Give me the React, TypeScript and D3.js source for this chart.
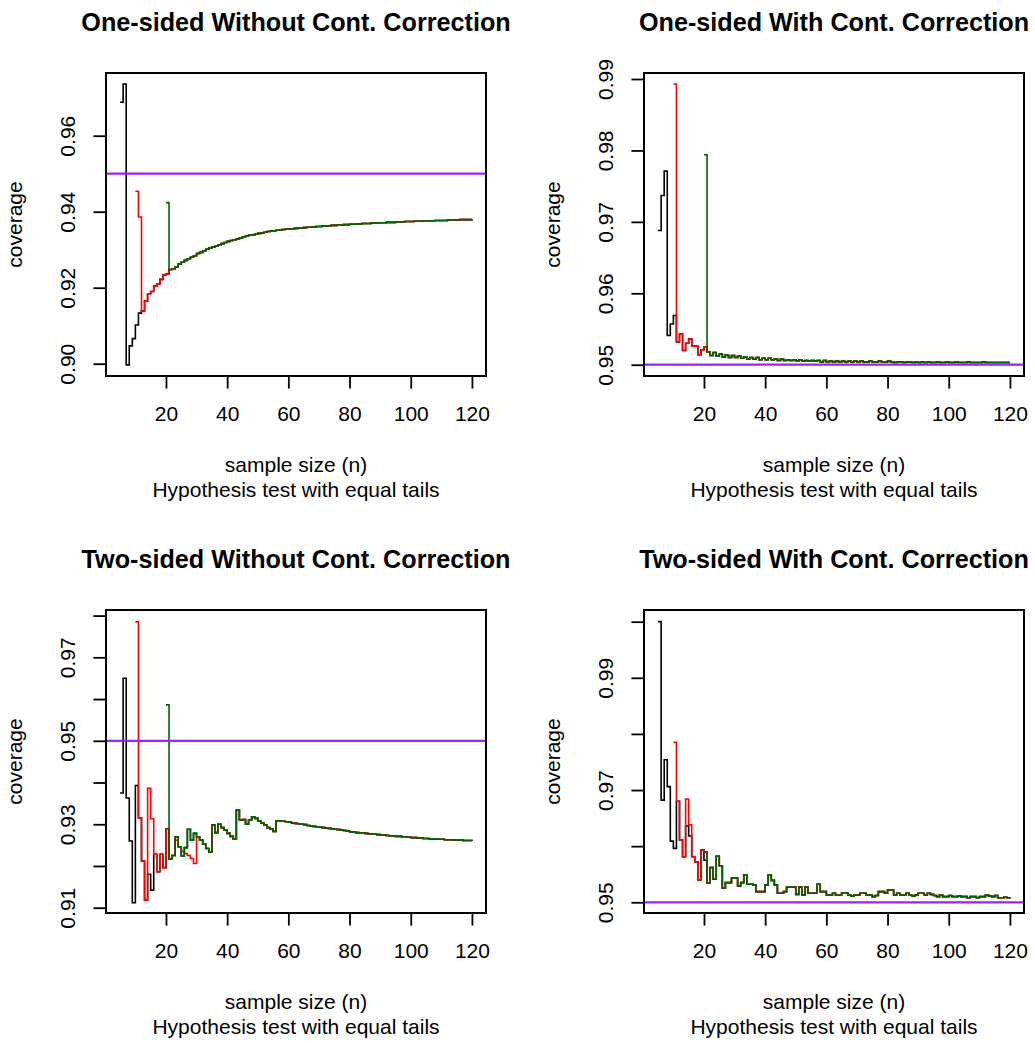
import React, { useEffect, useRef } from "react";
import * as d3 from "d3";

// sample sizes: black starts at n = 5, red at n = 10, green at n = 20
const blackStart = 5;
const redStart = 10;
const greenStart = 20;
const nMax = 120;

const xTicks = [20, 40, 60, 80, 100, 120];

// ---- One-sided Without Cont. Correction ----
const p1Black = [0.9688, 0.9736, 0.8997, 0.9047, 0.9066, 0.9102, 0.9133, 0.9139, 0.9165, 0.9184, 0.919, 0.9204, 0.921, 0.9222, 0.9233, 0.9236];
const p1Red = [0.9454, 0.9386, 0.9139, 0.9165, 0.9184, 0.919, 0.9204, 0.921, 0.9222, 0.9233, 0.9236];
const p1Green = [0.9424];
// shared by all three from n = 21
const p1Tail = [
  0.9248, 0.925, 0.9254, 0.9262, 0.9267, 0.9272, 0.9276, 0.928, 0.9284, 0.929,
  0.9293, 0.9297, 0.9301, 0.9304, 0.9307, 0.9309, 0.9313, 0.9316, 0.9319, 0.9322,
  0.9324, 0.9326, 0.9328, 0.9331, 0.9334, 0.9336, 0.9338, 0.9339, 0.9341, 0.9343,
  0.9344, 0.9346, 0.9348, 0.9349, 0.935, 0.9351, 0.9352, 0.9353, 0.9354, 0.9354,
  0.9355, 0.9356, 0.9357, 0.9357, 0.9358, 0.9359, 0.9359, 0.936, 0.9361, 0.9361,
  0.9362, 0.9362, 0.9363, 0.9364, 0.9364, 0.9365, 0.9365, 0.9366, 0.9366, 0.9367,
  0.9367, 0.9368, 0.9368, 0.9369, 0.9369, 0.9369, 0.937, 0.937, 0.9371, 0.9371,
  0.9371, 0.9372, 0.9372, 0.9372, 0.9373, 0.9373, 0.9373, 0.9374, 0.9374, 0.9374,
  0.9375, 0.9375, 0.9375, 0.9376, 0.9376, 0.9376, 0.9376, 0.9377, 0.9377, 0.9377,
  0.9377, 0.9378, 0.9378, 0.9378, 0.9378, 0.9379, 0.9379, 0.9379, 0.9379, 0.938,
];

// ---- One-sided With Cont. Correction ----
const p2Black = [0.9688, 0.9737, 0.9771, 0.9541, 0.9557, 0.9569, 0.9532, 0.9543, 0.952, 0.953, 0.9536, 0.9526, 0.9526, 0.9514, 0.9521, 0.9525];
const p2Red = [0.9893, 0.9532, 0.9543, 0.952, 0.953, 0.9536, 0.9526, 0.9526, 0.9514, 0.9521, 0.9525];
const p2Green = [0.9794];
const p2Tail = [
  0.9518, 0.9513, 0.9517, 0.9512, 0.9515, 0.9511, 0.9514, 0.951, 0.9513, 0.951,
  0.9512, 0.9509, 0.9511, 0.9508, 0.951, 0.9508, 0.951, 0.9507, 0.9509, 0.9507,
  0.9509, 0.9507, 0.9508, 0.9506, 0.9508, 0.9506, 0.9507, 0.9506, 0.9507, 0.9505,
  0.9507, 0.9505, 0.9506, 0.9505, 0.9506, 0.9505, 0.9506, 0.9504, 0.9506, 0.9504,
  0.9505, 0.9504, 0.9505, 0.9504, 0.9505, 0.9504, 0.9505, 0.9504, 0.9505, 0.9504,
  0.9505, 0.9504, 0.9504, 0.9505, 0.9504, 0.9504, 0.9505, 0.9504, 0.9504, 0.9505,
  0.9504, 0.9503, 0.9504, 0.9504, 0.9503, 0.9504, 0.9504, 0.9503, 0.9504, 0.9503,
  0.9504, 0.9503, 0.9504, 0.9503, 0.9503, 0.9504, 0.9503, 0.9503, 0.9504, 0.9503,
  0.9503, 0.9504, 0.9503, 0.9503, 0.9503, 0.9504, 0.9503, 0.9503, 0.9503, 0.9503,
  0.9504, 0.9503, 0.9503, 0.9503, 0.9503, 0.9503, 0.9503, 0.9503, 0.9503, 0.9503,
];

// ---- Two-sided Without Cont. Correction ----
const p3Black = [
  0.9375, 0.965, 0.9363, 0.926, 0.9112, 0.9393, 0.9315, 0.9212, 0.9118, 0.918,
  0.9142, 0.9228, 0.9186, 0.9228, 0.9196, 0.9289, 0.9217, 0.9225, 0.927, 0.9246,
  0.9224, 0.9244, 0.9288, 0.9262, 0.9278,
];
const p3Red = [
  0.9785, 0.9315, 0.9212, 0.9118, 0.9386, 0.9313, 0.9228, 0.9186, 0.9228, 0.9196,
  0.9289, 0.9217, 0.9225, 0.9262, 0.9246, 0.9235, 0.923, 0.9225, 0.9218, 0.9206,
];
const p3Green = [0.9586, 0.9217, 0.9225, 0.927, 0.9246, 0.9224, 0.9244, 0.9288, 0.9262, 0.9278];
// shared from n = 30
const p3Tail = [
  0.927, 0.9262, 0.9252, 0.9242, 0.9233, 0.9298, 0.928, 0.93, 0.9292, 0.9286,
  0.9278, 0.9271, 0.9264, 0.9334, 0.931, 0.9311, 0.93, 0.931, 0.9318, 0.9314,
  0.9308, 0.9303, 0.9298, 0.9292, 0.9289, 0.9283, 0.9308, 0.9308, 0.9307, 0.9306,
  0.9305, 0.9303, 0.9302, 0.9301, 0.93, 0.9299, 0.9297, 0.9296, 0.9295, 0.9294,
  0.9293, 0.9292, 0.9291, 0.929, 0.9289, 0.9288, 0.9287, 0.9286, 0.9285, 0.9284,
  0.9282, 0.9281, 0.928, 0.9279, 0.9279, 0.9278, 0.9277, 0.9277, 0.9276, 0.9275,
  0.9274, 0.9274, 0.9273, 0.9272, 0.9272, 0.9271, 0.9271, 0.927, 0.927, 0.9269,
  0.9268, 0.9268, 0.9267, 0.9267, 0.9266, 0.9266, 0.9265, 0.9265, 0.9265, 0.9264,
  0.9264, 0.9263, 0.9263, 0.9263, 0.9262, 0.9262, 0.9262, 0.9261, 0.9261, 0.9261,
  0.926,
];

// ---- Two-sided With Cont. Correction ----
const p4Black = [1.0, 0.9682, 0.9754, 0.9706, 0.9609, 0.9596, 0.968, 0.9611, 0.9581, 0.9636, 0.9618, 0.9581, 0.9572, 0.954, 0.9593, 0.9575];
const p4Red = [0.9785, 0.968, 0.9611, 0.9581, 0.9684, 0.9638, 0.9581, 0.9572, 0.954, 0.9593, 0.9589];
const p4Green = [0.959];
const p4Tail = [
  0.9534, 0.9562, 0.9541, 0.9582, 0.9565, 0.9525, 0.9535, 0.9535, 0.9543, 0.9543,
  0.9529, 0.9535, 0.9549, 0.9532, 0.9532, 0.9531, 0.9519, 0.9519, 0.9519, 0.9531,
  0.9549, 0.9539, 0.9531, 0.9516, 0.9516, 0.9519, 0.9527, 0.9527, 0.9527, 0.9514,
  0.9527, 0.9513, 0.9527, 0.9516, 0.9516, 0.9516, 0.9532, 0.9519, 0.9519, 0.9513,
  0.9513, 0.9516, 0.9513, 0.9513, 0.9517, 0.9517, 0.9513, 0.9511, 0.9513, 0.9513,
  0.9516, 0.9516, 0.9513, 0.9513, 0.951, 0.9512, 0.9519, 0.9519, 0.9516, 0.9522,
  0.9522, 0.9513, 0.9516, 0.9513, 0.9513, 0.9516, 0.9513, 0.9511, 0.9513, 0.9516,
  0.9516, 0.9513, 0.9516, 0.9514, 0.9512, 0.951, 0.9513, 0.951, 0.951, 0.9512,
  0.951, 0.951, 0.9511, 0.951, 0.951, 0.9508, 0.951, 0.951, 0.9508, 0.951,
  0.951, 0.9513, 0.9511, 0.951, 0.9512, 0.9508, 0.9508, 0.9509, 0.9508, 0.9509,
];

const panels = [
  {
    title: "One-sided Without Cont. Correction",
    black: p1Black, red: p1Red, green: p1Green, tail: p1Tail, tailStart: 21,
    ylim: [0.89676, 0.9765], yTicks: [0.9, 0.92, 0.94, 0.96], yLabels: ["0.90", "0.92", "0.94", "0.96"],
    col: 0, row: 0,
  },
  {
    title: "One-sided With Cont. Correction",
    black: p2Black, red: p2Red, green: p2Green, tail: p2Tail, tailStart: 21,
    ylim: [0.94842, 0.99084], yTicks: [0.95, 0.96, 0.97, 0.98, 0.99], yLabels: ["0.95", "0.96", "0.97", "0.98", "0.99"],
    col: 1, row: 0,
  },
  {
    title: "Two-sided Without Cont. Correction",
    black: p3Black, red: p3Red, green: p3Green, tail: p3Tail, tailStart: 30,
    ylim: [0.90873, 0.98134], yTicks: [0.91, 0.92, 0.93, 0.94, 0.95, 0.96, 0.97, 0.98], yLabels: ["0.91", "", "0.93", "", "0.95", "", "0.97", ""],
    col: 0, row: 1,
  },
  {
    title: "Two-sided With Cont. Correction",
    black: p4Black, red: p4Red, green: p4Green, tail: p4Tail, tailStart: 21,
    ylim: [0.94809, 1.00208], yTicks: [0.95, 0.96, 0.97, 0.98, 0.99, 1.0], yLabels: ["0.95", "", "0.97", "", "0.99", ""],
    col: 1, row: 1,
  },
];

const WIDTH = 1035;
const HEIGHT = 1043;
const box = { left: 106, top: 73, width: 380, height: 303 };
const colStep = 538;
const rowStep = 537;
const xLim = [0.4, 124.6];
const FONT = "'Liberation Sans', Arial, Helvetica, sans-serif";

const toPoints = (head: number[], start: number, tail: number[], tailStart: number) =>
  head.map((v, i) => [start + i, v]).concat(tail.map((v, i) => [tailStart + i, v]));

const App = () => {
  const svgRef = useRef<SVGSVGElement>(null);

  useEffect(() => {
    document.body.style.margin = "0";
    const svg = d3.select(svgRef.current);
    svg.selectAll("*").remove();

    panels.forEach((p) => {
      const ox = box.left + p.col * colStep;
      const oy = box.top + p.row * rowStep;
      const x = d3.scaleLinear().domain(xLim).range([ox, ox + box.width]);
      const y = d3.scaleLinear().domain(p.ylim).range([oy + box.height, oy]);
      const g = svg.append("g");

      const line = d3
        .line<number[]>()
        .x((d) => x(d[0]))
        .y((d) => y(d[1]))
        .curve(d3.curveStepAfter);

      const series = [
        { pts: toPoints(p.black, blackStart, p.tail, p.tailStart), color: "#000000" },
        { pts: toPoints(p.red, redStart, p.tail, p.tailStart), color: "#FF0000" },
        { pts: toPoints(p.green, greenStart, p.tail, p.tailStart), color: "#006400" },
      ];
      series.forEach((s) => {
        g.append("path")
          .attr("d", line(s.pts.filter((d) => d[0] <= nMax)))
          .attr("fill", "none")
          .attr("stroke", s.color)
          .attr("stroke-width", 1.6);
      });

      // reference line at 0.95
      g.append("line")
        .attr("x1", ox)
        .attr("x2", ox + box.width)
        .attr("y1", y(0.95))
        .attr("y2", y(0.95))
        .attr("stroke", "#A020F0")
        .attr("stroke-width", 2.2);

      // box
      g.append("rect")
        .attr("x", ox)
        .attr("y", oy)
        .attr("width", box.width)
        .attr("height", box.height)
        .attr("fill", "none")
        .attr("stroke", "#000")
        .attr("stroke-width", 2);

      // x axis
      const xa = g
        .append("g")
        .attr("transform", `translate(0, ${oy + box.height})`)
        .call(d3.axisBottom(x).tickValues(xTicks).tickSize(12.6).tickPadding(17.5).tickFormat(d3.format("d")));
      xa.select(".domain").remove();
      xa.selectAll("line").attr("stroke-width", 1.8);
      xa.selectAll("text").style("font-size", "21px").style("font-family", FONT).attr("fill", "#000");

      // y axis with rotated labels
      const ya = g
        .append("g")
        .attr("transform", `translate(${ox}, 0)`)
        .call(d3.axisLeft(y).tickValues(p.yTicks).tickSize(12.6).tickFormat((_, i) => p.yLabels[i]));
      ya.select(".domain").remove();
      ya.selectAll("line").attr("stroke-width", 1.8);
      ya.selectAll("text")
        .attr("x", null)
        .attr("dy", null)
        .attr("text-anchor", "middle")
        .attr("transform", "translate(-31, 0) rotate(-90)")
        .style("font-size", "21px")
        .style("font-family", FONT)
        .attr("fill", "#000");

      // titles and labels
      g.append("text")
        .attr("x", ox + box.width / 2)
        .attr("y", oy - 42)
        .attr("text-anchor", "middle")
        .style("font-size", "25.2px")
        .style("font-weight", "bold")
        .text(p.title);

      g.append("text")
        .attr("x", ox + box.width / 2)
        .attr("y", oy + box.height + 96)
        .attr("text-anchor", "middle")
        .style("font-size", "21px")
        .text("sample size (n)");

      g.append("text")
        .attr("x", ox + box.width / 2)
        .attr("y", oy + box.height + 121)
        .attr("text-anchor", "middle")
        .style("font-size", "21px")
        .text("Hypothesis test with equal tails");

      g.append("text")
        .attr("transform", `translate(${ox - 84}, ${oy + box.height / 2}) rotate(-90)`)
        .attr("text-anchor", "middle")
        .style("font-size", "21px")
        .text("coverage");
    });
  }, []);

  return (
    <svg
      ref={svgRef}
      width={WIDTH}
      height={HEIGHT}
      style={{ display: "block", background: "#fff", fontFamily: FONT }}
    ></svg>
  );
};

export default App;
